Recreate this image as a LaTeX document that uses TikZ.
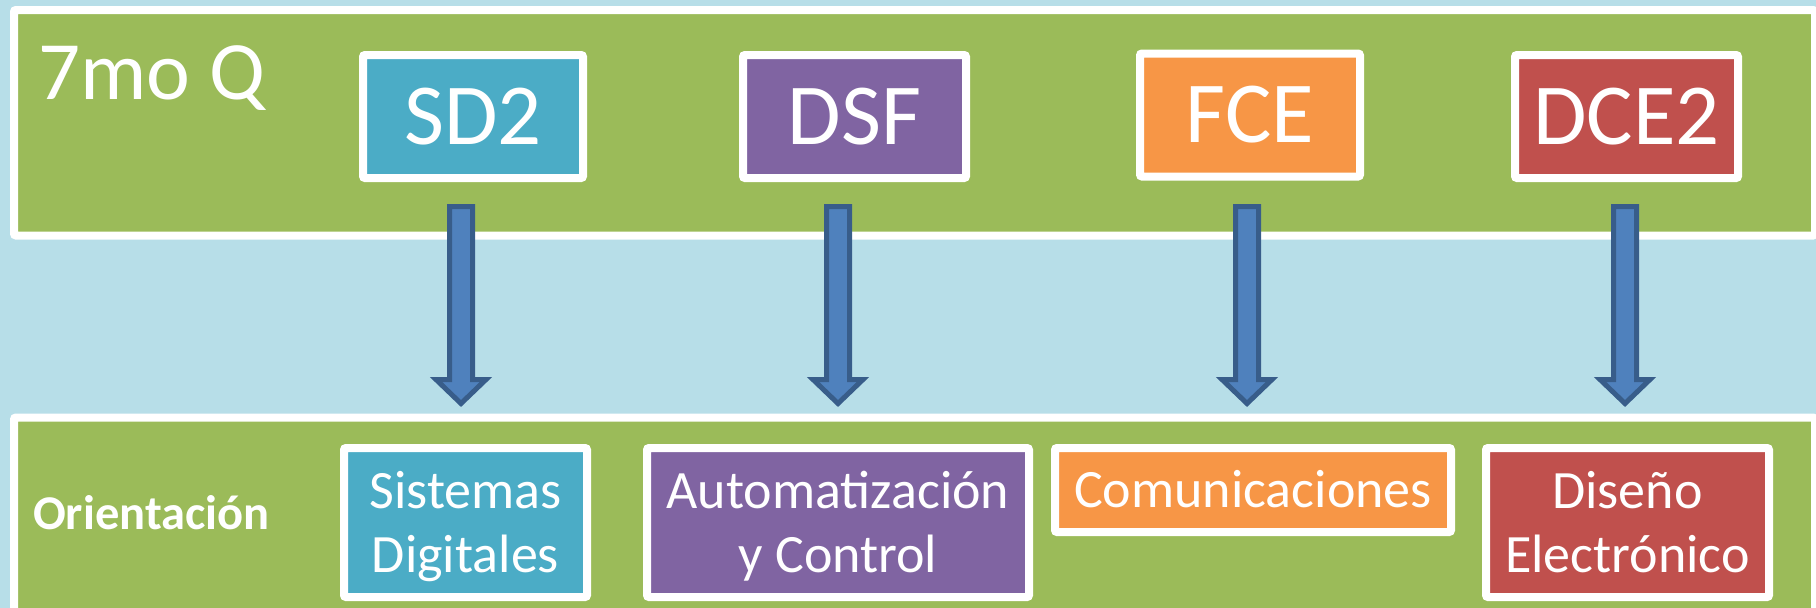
\documentclass[tikz,border=0pt]{standalone}
\usepackage{fontspec}
\setmainfont{Carlito}
\definecolor{bgblue}{HTML}{B7DEE8}
\definecolor{panelgreen}{HTML}{9BBB59}
\definecolor{cblue}{HTML}{4BACC6}
\definecolor{cpurple}{HTML}{8064A2}
\definecolor{corange}{HTML}{F79646}
\definecolor{cred}{HTML}{C0504D}
\definecolor{arrowfill}{HTML}{4F81BD}
\definecolor{arrowline}{HTML}{385D8A}
\tikzset{
  panel/.style={fill=panelgreen, draw=white, line width=8pt, rounded corners=2pt},
  topbox/.style={draw=white, line width=8pt, rounded corners=2pt, text=white,
    minimum height=123pt, inner sep=0pt, text height=55pt, text depth=0pt,
    font=\fontsize{87}{104}\selectfont},
  botbox/.style={draw=white, line width=8pt, rounded corners=2pt, text=white,
    inner sep=0pt, align=center, text depth=0pt,
    font=\fontsize{54}{64}\selectfont},
  blockarrow/.style={fill=arrowfill, draw=arrowline, line width=5pt}
}
\newcommand\downblockarrow[1]{%
  \draw[blockarrow] ($(#1)+(-11.5,0)$) -- ($(#1)+(11.5,0)$) -- ($(#1)+(11.5,173)$)
    -- ($(#1)+(25,173)$) -- ($(#1)+(0,197)$) -- ($(#1)+(-25,173)$)
    -- ($(#1)+(-11.5,173)$) -- cycle;}
\usetikzlibrary{calc}
\begin{document}
\begin{tikzpicture}[x=1pt,y=-1pt]
\useasboundingbox (0,0) rectangle (1816,608);
\fill[bgblue] (0,0) rectangle (1816,608);
% panels
\draw[panel] (14,10) rectangle (1815,235.5);
\draw[panel] (14,417.5) rectangle (1815,650);
% title texts
\node[anchor=base west, inner sep=0pt, text=white, font=\fontsize{83}{100}\selectfont] (q7) at (38,99) {7mo Q};
\node[anchor=base west, inner sep=0pt, text=white, font=\fontsize{48.5}{58}\selectfont\bfseries] (orient) at (33,529) {Orientación};
% top boxes
\node[topbox, fill=cblue, minimum width=220pt] (sd2) at (473,116.5) {SD2};
\node[topbox, fill=cpurple, minimum width=223pt] (dsf) at (854.5,116.5) {DSF};
\node[topbox, fill=corange, minimum width=220pt] (fce) at (1250,115) {FCE};
\node[topbox, fill=cred, minimum width=223pt] (dce2) at (1626.5,116.5) {DCE2};
% bottom boxes
\node[botbox, fill=cblue, minimum width=243pt, minimum height=149pt, text height=99pt] (sisdig) at (465.5,522.5) {Sistemas\\Digitales};
\node[botbox, fill=cpurple, minimum width=382pt, minimum height=149pt, text height=99pt] (autom) at (838,522.5) {Automatización\\y Control};
\node[botbox, fill=corange, minimum width=396pt, minimum height=84pt, text height=34pt] (comun) at (1253,490) {Comunicaciones};
\node[botbox, fill=cred, minimum width=283pt, minimum height=149pt, text height=99pt] (disen) at (1627.5,522.5) {Diseño\\Electrónico};
% arrows
\coordinate (a1) at (461,206.5);
\coordinate (a2) at (838,206.5);
\coordinate (a3) at (1247,206.5);
\coordinate (a4) at (1625,206.5);
\downblockarrow{a1}
\downblockarrow{a2}
\downblockarrow{a3}
\downblockarrow{a4}
\end{tikzpicture}
\end{document}
